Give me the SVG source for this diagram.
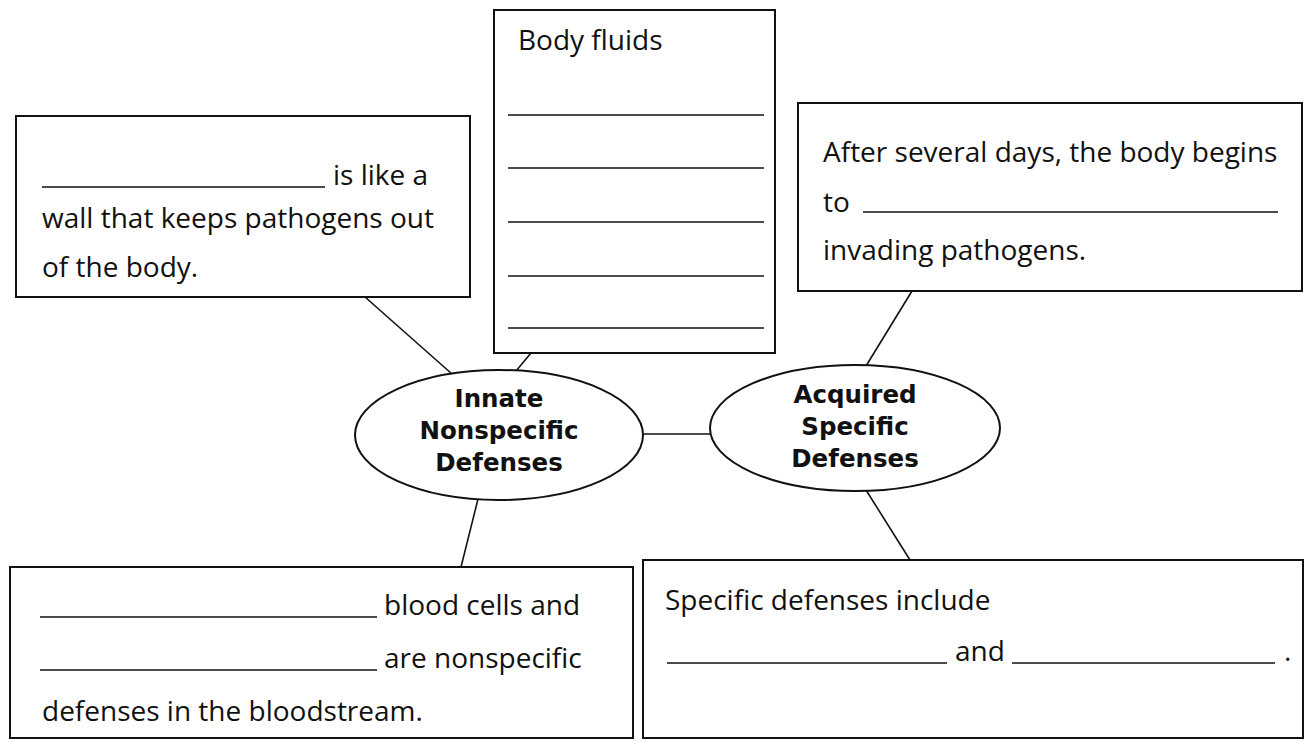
<svg xmlns="http://www.w3.org/2000/svg" width="1315" height="750" viewBox="0 0 1315 750">
<style>
.box{fill:#fff;stroke:#111;stroke-width:2}
.ell{fill:#fff;stroke:#111;stroke-width:2}
.con{stroke:#111;stroke-width:1.6;fill:none}
.blank{stroke:#111;stroke-width:1.3}
.t{font-family:"Open Sans","Noto Sans",sans-serif;font-size:28px;fill:#111}
.b{font-family:"DejaVu Sans",sans-serif;font-size:24.5px;font-weight:bold;fill:#111;text-anchor:middle}
</style>
<rect width="1315" height="750" fill="#fff"/>
<g id="connectors">
<line class="con" x1="365" y1="297" x2="452" y2="374"/>
<line class="con" x1="531" y1="353" x2="516" y2="371"/>
<line class="con" x1="912" y1="291" x2="866" y2="366"/>
<line class="con" x1="643" y1="434" x2="710" y2="434"/>
<line class="con" x1="478" y1="499" x2="461" y2="567"/>
<line class="con" x1="866" y1="490" x2="910" y2="560"/>
</g>
<g id="box-wall">
<rect class="box" x="16" y="116" width="454" height="181"/>
<line class="blank" x1="42" y1="187" x2="325" y2="187"/>
<text class="t" x="333" y="185">is like a</text>
<text class="t" x="42" y="228">wall that keeps pathogens out</text>
<text class="t" x="42" y="277">of the body.</text>
</g>
<g id="box-fluids">
<rect class="box" x="494" y="10" width="281" height="343"/>
<text class="t" x="518" y="50">Body fluids</text>
<line class="blank" x1="508" y1="115" x2="764" y2="115"/>
<line class="blank" x1="508" y1="168" x2="764" y2="168"/>
<line class="blank" x1="508" y1="222" x2="764" y2="222"/>
<line class="blank" x1="508" y1="276" x2="764" y2="276"/>
<line class="blank" x1="508" y1="328" x2="764" y2="328"/>
</g>
<g id="box-after">
<rect class="box" x="798" y="103" width="504" height="188"/>
<text class="t" x="823" y="162">After several days, the body begins</text>
<text class="t" x="823" y="212">to</text>
<line class="blank" x1="863" y1="212" x2="1278" y2="212"/>
<text class="t" x="823" y="260">invading pathogens.</text>
</g>
<g id="innate">
<ellipse class="ell" cx="499" cy="435" rx="144" ry="65"/>
<text class="b" x="499" y="407">Innate</text>
<text class="b" x="499" y="439">Nonspecific</text>
<text class="b" x="499" y="471">Defenses</text>
</g>
<g id="acquired">
<ellipse class="ell" cx="855" cy="428" rx="145" ry="63"/>
<text class="b" x="855" y="403">Acquired</text>
<text class="b" x="855" y="435">Specific</text>
<text class="b" x="855" y="467">Defenses</text>
</g>
<g id="box-blood">
<rect class="box" x="10" y="567" width="623" height="171"/>
<line class="blank" x1="40" y1="617" x2="377" y2="617"/>
<text class="t" x="384" y="615">blood cells and</text>
<line class="blank" x1="40" y1="670" x2="377" y2="670"/>
<text class="t" x="384" y="668">are nonspecific</text>
<text class="t" x="42" y="721">defenses in the bloodstream.</text>
</g>
<g id="box-specific">
<rect class="box" x="643" y="560" width="660" height="178"/>
<text class="t" x="665" y="610">Specific defenses include</text>
<line class="blank" x1="667" y1="663" x2="947" y2="663"/>
<text class="t" x="955" y="661">and</text>
<line class="blank" x1="1012" y1="663" x2="1275" y2="663"/>
<text class="t" x="1284" y="661">.</text>
</g>
</svg>
